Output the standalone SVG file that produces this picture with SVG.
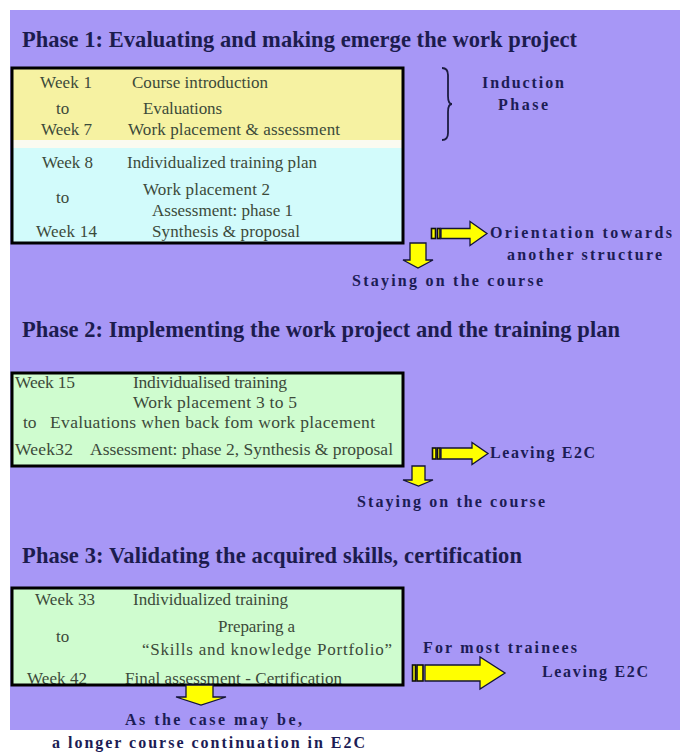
<svg xmlns="http://www.w3.org/2000/svg" width="680" height="752" viewBox="0 0 680 752">
<style>
.title{font-family:"Liberation Serif","Times New Roman",serif;font-weight:bold;font-size:22.5px;fill:#1c1c4e}
.lbl{font-family:"Liberation Serif","Times New Roman",serif;font-weight:bold;font-size:16px;fill:#1c1c55}
.bt{font-family:"Liberation Serif","Times New Roman",serif;font-size:17px;fill:#3c4a3a}
.bt2{font-family:"Liberation Serif","Times New Roman",serif;font-size:17.5px;fill:#3c4a3a}
.border{fill:none;stroke:#000;stroke-width:3}
.arr{fill:#ffff00;stroke:#14143a;stroke-width:1.3;stroke-linejoin:miter}
.stripe{fill:#ffff00;stroke:#111;stroke-width:1.6}
</style>
<rect x="0" y="0" width="680" height="752" fill="#ffffff"/>
<rect id="background" x="10" y="10" width="670" height="720" fill="#a797f6"/>

<g id="phase1-title"><text class="title" x="22" y="47" textLength="555">Phase 1: Evaluating and making emerge the work project</text></g>

<g id="box1">
<rect x="12" y="68" width="391" height="72" fill="#f6f2a2"/>
<rect x="12" y="140" width="391" height="8" fill="#fafaf0"/>
<rect x="12" y="148" width="391" height="95" fill="#d2fbfb"/>
<text class="bt" x="40" y="88" textLength="52">Week 1</text>
<text class="bt" x="132" y="88" textLength="136">Course introduction</text>
<text class="bt" x="56" y="114">to</text>
<text class="bt" x="143" y="114" textLength="79">Evaluations</text>
<text class="bt" x="41" y="135" textLength="51">Week 7</text>
<text class="bt" x="128" y="135" textLength="212">Work placement &amp; assessment</text>
<text class="bt" x="42" y="168" textLength="51">Week 8</text>
<text class="bt" x="127" y="168" textLength="190">Individualized training plan</text>
<text class="bt" x="143" y="195" textLength="127">Work placement 2</text>
<text class="bt" x="56" y="203">to</text>
<text class="bt" x="152" y="216" textLength="141">Assessment: phase 1</text>
<text class="bt" x="36" y="237" textLength="61">Week 14</text>
<text class="bt" x="152" y="237" textLength="148">Synthesis &amp; proposal</text>
<rect class="border" x="12" y="68" width="391" height="175"/>
</g>

<g id="induction">
<path d="M442,68 q6,0 6,7 v21 q0,8 4,8 q-4,0 -4,8 v21 q0,7 -6,7" fill="none" stroke="#1c1c40" stroke-width="1.8"/>
<text class="lbl" x="482" y="88" textLength="82">Induction</text>
<text class="lbl" x="498" y="110" textLength="50">Phase</text>
</g>

<g id="phase2-title"><text class="title" x="22" y="337" textLength="598">Phase 2: Implementing the work project and the training plan</text></g>

<g id="box2">
<rect x="12" y="373" width="391" height="93" fill="#cffccf"/>
<text class="bt2" x="15" y="388" textLength="60">Week 15</text>
<text class="bt2" x="133" y="388" textLength="154">Individualised training</text>
<text class="bt2" x="133" y="408" textLength="164">Work placement 3 to 5</text>
<text class="bt2" x="23" y="428">to</text>
<text class="bt2" x="50" y="428" textLength="325">Evaluations when back fom work placement</text>
<text class="bt2" x="15" y="455" textLength="58">Week32</text>
<text class="bt2" x="90" y="455" textLength="303">Assessment: phase 2, Synthesis &amp; proposal</text>
<rect class="border" x="12" y="373" width="391" height="93"/>
</g>

<g id="phase3-title"><text class="title" x="22" y="563" textLength="500">Phase 3: Validating the acquired skills, certification</text></g>

<g id="box3">
<rect x="12" y="588" width="391" height="97" fill="#cffccf"/>
<text class="bt" x="35" y="605" textLength="60">Week 33</text>
<text class="bt" x="133" y="605" textLength="155">Individualized training</text>
<text class="bt" x="218" y="632" textLength="77">Preparing a</text>
<text class="bt" x="56" y="642">to</text>
<text class="bt" x="142" y="655" textLength="250">“Skills and knowledge Portfolio”</text>
<text class="bt" x="27" y="684" textLength="60">Week 42</text>
<text class="bt" x="125" y="684" textLength="217">Final assessment - Certification</text>
<rect class="border" x="12" y="588" width="391" height="97"/>
</g>

<g id="connectors">
<rect class="stripe" x="431.5" y="228.5" width="4" height="10"/>
<rect class="stripe" x="437.5" y="228.5" width="2.5" height="10"/>
<polygon class="arr" points="441,228.5 470,228.5 470,221.5 487,233.5 470,245.5 470,238.5 441,238.5"/>
<polygon class="arr" points="410,243 426,243 426,260 433,260 418,268 403,260 410,260"/>

<rect class="stripe" x="432.5" y="448" width="3.5" height="11"/>
<rect class="stripe" x="437.5" y="448" width="2.5" height="11"/>
<polygon class="arr" points="441,448 472,448 472,442.5 488,453.5 472,464.5 472,459 441,459"/>
<polygon class="arr" points="412,466 425,466 425,480 433,480 418.5,486 403,480 412,480"/>

<rect class="stripe" x="412.5" y="665" width="3" height="16"/>
<rect class="stripe" x="417" y="665" width="6" height="16"/>
<polygon class="arr" points="425,665 480,665 480,657 505,673 480,689 480,681 425,681"/>
<polygon class="arr" points="186,685 213,685 213,697 226,697 201,705 176,697 186,697"/>
</g>

<g id="labels">
<text class="lbl" x="490" y="238" textLength="182">Orientation towards</text>
<text class="lbl" x="507" y="260" textLength="155">another structure</text>
<text class="lbl" x="352" y="286" textLength="191">Staying on the course</text>
<text class="lbl" x="490" y="458" textLength="105">Leaving E2C</text>
<text class="lbl" x="357" y="507" textLength="188">Staying on the course</text>
<text class="lbl" x="423" y="653" textLength="154">For most trainees</text>
<text class="lbl" x="542" y="677" textLength="106">Leaving E2C</text>
<text class="lbl" x="125" y="725" textLength="177">As the case may be,</text>
<text class="lbl" x="52" y="748" textLength="313">a longer course continuation in E2C</text>
</g>
</svg>
